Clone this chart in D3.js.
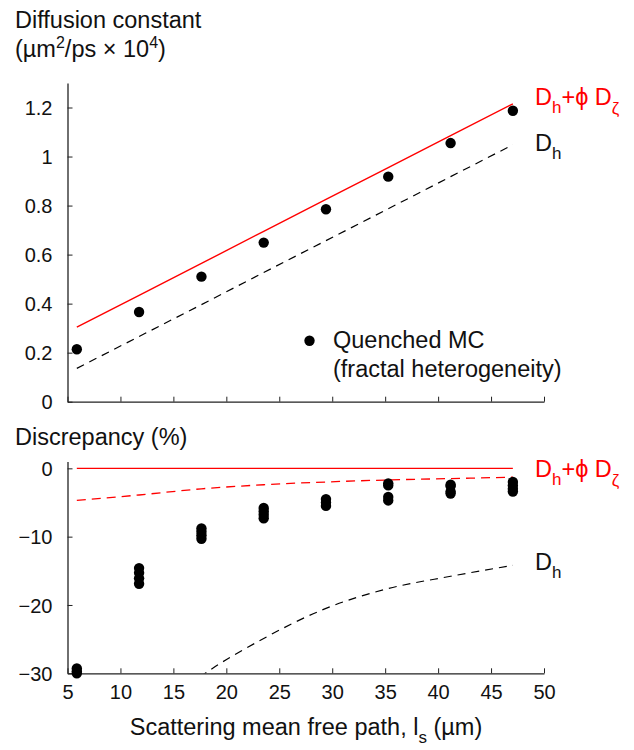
<!DOCTYPE html>
<html lang="en">
<head>
    <meta charset="UTF-8">
    <title>Diffusion constant vs scattering mean free path</title>
    <style>
        body {
            margin: 0;
            padding: 0;
            background-color: white;
        }
        svg text {
            font-family: "Liberation Sans", Arial, sans-serif;
            fill: #111;
        }
        .axis path, .axis line {
            stroke: #222;
        }
    </style>
    <script src="https://d3js.org/d3.v7.min.js"></script>
</head>
<body>
    <div id="chart"></div>

    <script>
        // scattering mean free path (um)
        const lsValues = [5.88, 11.76, 17.65, 23.53, 29.41, 35.29, 41.18, 47.06];

        // top panel: diffusion constant (um^2/ps x 10^4)
        const mcDiffusion = [0.214, 0.366, 0.510, 0.649, 0.785, 0.918, 1.055, 1.187];
        const dhPhiDz = [0.304, 0.434, 0.564, 0.695, 0.825, 0.955, 1.085, 1.215];
        const dhOnly = [0.136, 0.266, 0.396, 0.527, 0.657, 0.787, 0.918, 1.048];

        // bottom panel: discrepancy (%), several MC realisations per l_s
        const mcDiscrepancy = [
            [-29.3, -29.7, -30.0],
            [-14.6, -15.3, -16.1, -16.9],
            [-8.8, -9.3, -9.8, -10.3],
            [-5.8, -6.3, -6.8, -7.3],
            [-4.5, -5.0, -5.5],
            [-2.2, -2.5, -4.2, -4.7],
            [-2.4, -2.6, -3.4, -3.7],
            [-2.0, -2.5, -3.0, -3.4]
        ];
        const discPhiSolid = [0, 0, 0, 0, 0, 0, 0, 0];
        const discPhiDashed = [-4.7, -3.9, -3.0, -2.4, -2.0, -1.7, -1.5, -1.3];
        const discDh = [-57, -38, -30.4, -24.9, -20.5, -17.6, -15.8, -14.2];

        const xTicks = [5, 10, 15, 20, 25, 30, 35, 40, 45, 50];
        const topTicks = [0, 0.2, 0.4, 0.6, 0.8, 1, 1.2];
        const bottomTicks = [0, -10, -20, -30];

        const width = 634, height = 750;
        const left = 67.5, right = 544;

        const svg = d3.select("#chart")
            .append("svg")
            .attr("width", width)
            .attr("height", height);

        svg.append("rect").attr("width", width).attr("height", height).attr("fill", "white");

        const x = d3.scaleLinear().domain([5, 50]).range([left, right]);
        const yTop = d3.scaleLinear().domain([0, 1.3]).range([401.7, 83]);
        const yBot = d3.scaleLinear().domain([-30, 1]).range([673.3, 461.5]);

        const tickFont = "20px";
        const labelFont = "23.5px";

        function drawAxes(y, ticks, fmt, showXLabels) {
            const gx = svg.append("g")
                .attr("class", "axis")
                .attr("transform", `translate(0,${y.range()[0]})`)
                .call(d3.axisBottom(x).tickValues(xTicks).tickSizeInner(-5).tickSizeOuter(0)
                    .tickPadding(12).tickFormat(showXLabels ? d3.format("d") : ""));
            gx.selectAll("text").style("font-size", tickFont).attr("fill", "#111");
            gx.select(".domain").attr("stroke-width", 1.3);

            const gy = svg.append("g")
                .attr("class", "axis")
                .attr("transform", `translate(${left},0)`)
                .call(d3.axisLeft(y).tickValues(ticks).tickSizeInner(-5).tickSizeOuter(0)
                    .tickPadding(15).tickFormat(fmt));
            gy.selectAll("text").style("font-size", tickFont).attr("fill", "#111").attr("dy", "0.36em");
            gy.select(".domain").attr("stroke-width", 1.3);
        }

        drawAxes(yTop, topTicks, d => d === 0 || d === 1 ? d3.format("d")(d) : d3.format(".1f")(d), false);
        drawAxes(yBot, bottomTicks, d => d === 0 ? "0" : "\u2212" + Math.abs(d), true);

        // clip for bottom panel
        svg.append("clipPath").attr("id", "clipBot")
            .append("rect")
            .attr("x", left).attr("y", yBot.range()[1])
            .attr("width", right - left).attr("height", yBot.range()[0] - yBot.range()[1]);

        // ---- top panel ----
        const lineTop = d3.line().x((d, i) => x(lsValues[i])).y(d => yTop(d));

        svg.append("path").datum(dhPhiDz)
            .attr("d", lineTop)
            .attr("fill", "none").attr("stroke", "#ff0000").attr("stroke-width", 1.4);

        svg.append("path").datum(dhOnly)
            .attr("d", lineTop)
            .attr("fill", "none").attr("stroke", "#000").attr("stroke-width", 1.2)
            .attr("stroke-dasharray", "8,6");

        svg.selectAll(".dotTop")
            .data(mcDiffusion)
            .enter().append("circle")
            .attr("cx", (d, i) => x(lsValues[i]))
            .attr("cy", d => yTop(d))
            .attr("r", 5.2)
            .attr("fill", "#000");

        // legend
        svg.append("circle").attr("cx", 309.5).attr("cy", 340.7).attr("r", 5.2).attr("fill", "#000");
        svg.append("text").attr("x", 333).attr("y", 347.5).style("font-size", labelFont).text("Quenched MC");
        svg.append("text").attr("x", 333).attr("y", 376.5).style("font-size", labelFont).text("(fractal heterogeneity)");

        // ---- bottom panel ----
        const lineBot = d3.line().x((d, i) => x(lsValues[i])).y(d => yBot(d));
        const gBot = svg.append("g").attr("clip-path", "url(#clipBot)");

        gBot.append("path").datum(discPhiSolid)
            .attr("d", lineBot)
            .attr("fill", "none").attr("stroke", "#ff0000").attr("stroke-width", 1.4);

        gBot.append("path").datum(discPhiDashed)
            .attr("d", lineBot.curve(d3.curveMonotoneX))
            .attr("fill", "none").attr("stroke", "#ff0000").attr("stroke-width", 1.3)
            .attr("stroke-dasharray", "9,6");

        gBot.append("path").datum(discDh)
            .attr("d", lineBot.curve(d3.curveMonotoneX))
            .attr("fill", "none").attr("stroke", "#000").attr("stroke-width", 1.2)
            .attr("stroke-dasharray", "8,6");

        const flatDisc = [];
        mcDiscrepancy.forEach((vals, i) => vals.forEach(v => flatDisc.push({ ls: lsValues[i], v: v })));

        svg.selectAll(".dotBot")
            .data(flatDisc)
            .enter().append("circle")
            .attr("cx", d => x(d.ls))
            .attr("cy", d => yBot(d.v))
            .attr("r", 5.2)
            .attr("fill", "#000");

        // ---- line labels ----
        function labelPhi(xPos, yPos) {
            const t = svg.append("text").attr("x", xPos).attr("y", yPos)
                .style("font-size", labelFont).style("fill", "#ff0000");
            t.append("tspan").text("D");
            t.append("tspan").attr("dy", 8).style("font-size", "17px").text("h");
            t.append("tspan").attr("dy", -8).text("+\u03d5 D");
            t.append("tspan").attr("dy", 9).style("font-size", "17px").text("\u03b6");
        }
        function labelDh(xPos, yPos) {
            const t = svg.append("text").attr("x", xPos).attr("y", yPos)
                .style("font-size", labelFont);
            t.append("tspan").text("D");
            t.append("tspan").attr("dy", 8).style("font-size", "17px").text("h");
        }
        labelPhi(535, 105);
        labelDh(535, 150.5);
        labelPhi(535, 476.5);
        labelDh(535, 570);

        // ---- axis titles ----
        svg.append("text").attr("x", 15).attr("y", 27.7).style("font-size", labelFont).text("Diffusion constant");
        const unit = svg.append("text").attr("x", 15).attr("y", 56.7).style("font-size", labelFont);
        unit.append("tspan").text("(\u00b5m");
        unit.append("tspan").attr("dy", -9).style("font-size", "16px").text("2");
        unit.append("tspan").attr("dy", 9).text("/ps \u00d7 10");
        unit.append("tspan").attr("dy", -9).style("font-size", "16px").text("4");
        unit.append("tspan").attr("dy", 9).text(")");

        svg.append("text").attr("x", 15).attr("y", 445).style("font-size", labelFont).text("Discrepancy (%)");

        const xl = svg.append("text").attr("x", 306).attr("y", 735)
            .attr("text-anchor", "middle").style("font-size", labelFont);
        xl.append("tspan").text("Scattering mean free path, l");
        xl.append("tspan").attr("dy", 8).style("font-size", "17px").text("s");
        xl.append("tspan").attr("dy", -8).text(" (\u00b5m)");
    </script>
</body>
</html>
